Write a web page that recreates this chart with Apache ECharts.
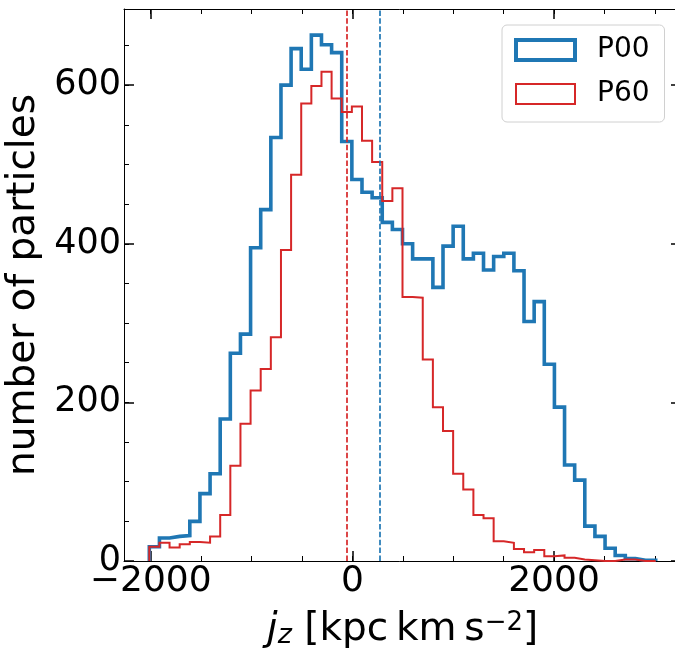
<!DOCTYPE html>
<html><head><meta charset="utf-8">
<script src="https://cdn.jsdelivr.net/npm/echarts@6/dist/echarts.min.js"></script>
<style>html,body{margin:0;padding:0;background:#fff}#c{width:675px;height:648px}</style>
</head><body><div id="c"></div>
<script>
// histogram bins (uniform): first edge and width, in kpc km s^-2
const binStart = -2014;
const binWidth = 100.46;
const seriesNames = ['P00', 'P60'];
const countsP00 = [18, 29, 31, 32, 50, 85, 110, 179, 262, 286, 395, 443, 534, 600, 646, 620, 663, 651, 641, 529,
  481, 465, 458, 427, 418, 400, 381, 381, 345, 397, 422, 381, 388, 367, 384, 388, 366, 302, 327, 248,
  194, 121, 102, 44, 31, 16, 7, 3, 1, 1];
const countsP60 = [18, 23, 17, 21, 24, 23, 31, 58, 120, 173, 215, 242, 282, 392, 487, 577, 599, 617, 583, 566,
  573, 530, 503, 454, 470, 333, 332, 254, 194, 164, 110, 90, 58, 54, 25, 23, 15, 11, 14, 6,
  7, 4, 2, 1, 0, 0, 2, 2, 0, 0];
const medianP00 = 272;
const medianP60 = -53;
const xMajorTicks = [-2000, 0, 2000];
const xMinorTicks = [-2000, -1500, -1000, -500, 0, 500, 1000, 1500, 2000, 2500, 3000];
const yMajorTicks = [0, 200, 400, 600];
const yMinorTicks = [0, 50, 100, 150, 200, 250, 300, 350, 400, 450, 500, 550, 600, 650];
const xRange = [-2265, 3260];
const yRange = [0, 696];

const FONT = 'DejaVu Sans';
const BLUE = '#1f77b4', RED = '#d62728';

function stepData(counts) {
  const pts = [[binStart, 0]];
  counts.forEach((c, i) => pts.push([binStart + i * binWidth, c]));
  pts.push([binStart + counts.length * binWidth, 0]);
  return pts;
}
const fmt = v => (v < 0 ? '\u2212' + Math.abs(v) : String(v));

function axis(kind, pos, ticks, len, width, opts) {
  const a = {
    type: 'value', position: pos,
    min: kind === 'x' ? xRange[0] : yRange[0],
    max: kind === 'x' ? xRange[1] : yRange[1],
    axisLine: { show: !!opts.line, onZero: false, lineStyle: { color: '#000', width: 1 } },
    axisTick: { show: true, inside: true, length: len, customValues: ticks, lineStyle: { color: '#000', width: width } },
    axisLabel: { show: false },
    splitLine: { show: false }
  };
  if (opts.labels) {
    a.axisLabel = { show: true, customValues: opts.labels, formatter: fmt, fontFamily: FONT, fontSize: opts.fs, color: '#000', margin: opts.margin };
  }
  if (opts.name) Object.assign(a, opts.name);
  return a;
}

const chart = echarts.init(document.getElementById('c'), null, { renderer: 'canvas' });
chart.setOption({
  animation: false,
  backgroundColor: '#fff',
  grid: { left: 124, top: 9, width: 557, height: 552, containLabel: false, outerBoundsMode: 'none' },
  xAxis: [
    axis('x', 'bottom', xMajorTicks, 10, 1.5, { line: true, labels: xMajorTicks, fs: 36, margin: 3, name: {
      name: '{it|j}{sub|z}{n| [kpc\u2009km\u2009s}{sup|\u22122}{n|]}',
      nameLocation: 'middle', nameGap: 49,
      nameTextStyle: { fontFamily: FONT, fontSize: 39, color: '#000', rich: {
        it: { fontFamily: FONT, fontSize: 39, fontStyle: 'italic', color: '#000' },
        sub: { fontFamily: FONT, fontSize: 27, fontStyle: 'italic', color: '#000', verticalAlign: 'bottom', lineHeight: 20 },
        n: { fontFamily: FONT, fontSize: 39, color: '#000' },
        sup: { fontFamily: FONT, fontSize: 26, color: '#000', verticalAlign: 'top', lineHeight: 26 }
      } } } }),
    axis('x', 'bottom', xMinorTicks, 5, 1, {}),
    axis('x', 'top', xMajorTicks, 10, 1.5, { line: true }),
    axis('x', 'top', xMinorTicks, 5, 1, {})
  ],
  yAxis: [
    axis('y', 'left', yMajorTicks, 10, 1.5, { line: true, labels: yMajorTicks, fs: 35, margin: 3, name: {
      name: 'number of particles', nameLocation: 'middle', nameGap: 74,
      nameTextStyle: { fontFamily: FONT, fontSize: 39, color: '#000' } } }),
    axis('y', 'left', yMinorTicks, 5, 1, {}),
    axis('y', 'right', yMajorTicks, 10, 1.5, { line: true }),
    axis('y', 'right', yMinorTicks, 5, 1, {})
  ],
  legend: {
    data: [
      { name: seriesNames[0], icon: 'rect', itemStyle: { color: 'rgba(255,255,255,0)', borderColor: BLUE, borderWidth: 4 } },
      { name: seriesNames[1], icon: 'rect', itemStyle: { color: 'rgba(255,255,255,0)', borderColor: RED, borderWidth: 2 } }
    ],
    orient: 'vertical', left: 502, top: 25, itemWidth: 59, itemHeight: 20, itemGap: 10,
    padding: [8, 15, 11, 12],
    backgroundColor: 'rgba(255,255,255,0.8)', borderColor: '#d0d0d0', borderWidth: 1, borderRadius: 5,
    textStyle: { fontFamily: FONT, fontSize: 28, color: '#000', lineHeight: 34, padding: [0, 0, 0, 17] },
    selectedMode: false
  },
  series: [
    { name: seriesNames[0], type: 'line', step: 'end', showSymbol: false, symbol: 'none', data: stepData(countsP00),
      lineStyle: { color: BLUE, width: 3.6, join: 'miter' }, itemStyle: { color: BLUE }, z: 2,
      markLine: { symbol: 'none', silent: true, label: { show: false },
        lineStyle: { color: BLUE, width: 1.7, type: [5.5, 2.4] }, data: [{ xAxis: medianP00 }] } },
    { name: seriesNames[1], type: 'line', step: 'end', showSymbol: false, symbol: 'none', data: stepData(countsP60),
      lineStyle: { color: RED, width: 2, join: 'miter' }, itemStyle: { color: RED }, z: 3,
      markLine: { symbol: 'none', silent: true, label: { show: false },
        lineStyle: { color: RED, width: 1.7, type: [5.5, 2.4] }, data: [{ xAxis: medianP60 }] } }
  ]
});
</script></body></html>
